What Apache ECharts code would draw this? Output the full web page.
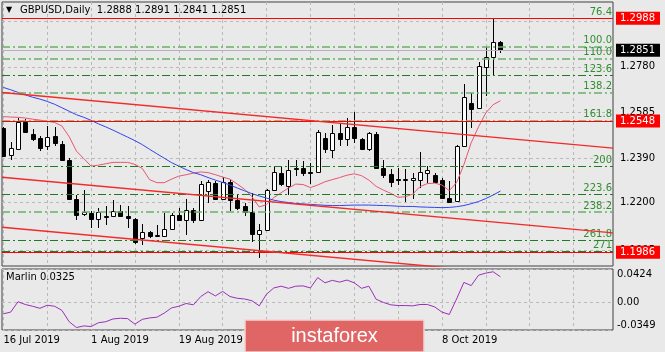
<!DOCTYPE html>
<html><head><meta charset="utf-8">
<script src="https://cdn.jsdelivr.net/npm/echarts@6/dist/echarts.min.js"></script>
<style>html,body{margin:0;padding:0;background:#e9e9e9}#c{width:665px;height:352px}</style>
</head><body><div id="c"></div>
<script>
const dates = ['16 Jul 2019','17 Jul 2019','18 Jul 2019','19 Jul 2019','22 Jul 2019','23 Jul 2019','24 Jul 2019','25 Jul 2019','26 Jul 2019','29 Jul 2019','30 Jul 2019','31 Jul 2019',
 '1 Aug 2019','2 Aug 2019','5 Aug 2019','6 Aug 2019','7 Aug 2019','8 Aug 2019','9 Aug 2019','12 Aug 2019','13 Aug 2019','14 Aug 2019','15 Aug 2019','16 Aug 2019','19 Aug 2019','20 Aug 2019','21 Aug 2019','22 Aug 2019','23 Aug 2019','26 Aug 2019','27 Aug 2019','28 Aug 2019','29 Aug 2019','30 Aug 2019',
 '2 Sep 2019','3 Sep 2019','4 Sep 2019','5 Sep 2019','6 Sep 2019','9 Sep 2019','10 Sep 2019','11 Sep 2019','12 Sep 2019','13 Sep 2019','16 Sep 2019','17 Sep 2019','18 Sep 2019','19 Sep 2019','20 Sep 2019','23 Sep 2019','24 Sep 2019','25 Sep 2019','26 Sep 2019','27 Sep 2019','30 Sep 2019',
 '1 Oct 2019','2 Oct 2019','3 Oct 2019','4 Oct 2019','7 Oct 2019','8 Oct 2019','9 Oct 2019','10 Oct 2019','11 Oct 2019','14 Oct 2019','15 Oct 2019','16 Oct 2019','17 Oct 2019','18 Oct 2019'];

const open  = [1.2518,1.2404,1.2429,1.2546,1.2494,1.2475,1.2439,1.2482,1.2451,1.2382,
 1.2216,1.2149,1.2155,1.2130,1.2142,1.2140,1.2162,1.2143,1.2129,1.2048,
 1.2072,1.2058,1.2055,1.2086,1.2147,1.2126,1.2169,1.2126,1.2250,1.2283,
 1.2214,1.2286,1.2209,1.2183,1.2157,1.2062,1.2083,1.2252,1.2326,1.2271,
 1.2345,1.2347,1.2329,1.2331,1.2475,1.2425,1.2496,1.2471,1.2522,1.2471,
 1.2430,1.2494,1.2347,1.2322,1.2300,1.2296,1.2294,1.2297,1.2326,1.2318,
 1.2294,1.2219,1.2205,1.2442,1.2627,1.2603,1.2781,1.2824,1.2888];
const high  = [1.2521,1.2458,1.2561,1.2556,1.2515,1.2485,1.2525,1.2522,1.2461,1.2388,
 1.2233,1.2251,1.2164,1.2176,1.2186,1.2209,1.2190,1.2186,1.2131,1.2105,
 1.2079,1.2102,1.2154,1.2154,1.2176,1.2214,1.2176,1.2290,1.2297,1.2290,
 1.2307,1.2297,1.2233,1.2197,1.2240,1.2105,1.2258,1.2351,1.2351,1.2382,
 1.2382,1.2375,1.2368,1.2508,1.2496,1.2532,1.2539,1.2561,1.2585,1.2475,
 1.2503,1.2499,1.2382,1.2342,1.2347,1.2342,1.2326,1.2415,1.2357,1.2326,
 1.2304,1.2290,1.2447,1.2707,1.2667,1.2803,1.2867,1.2988,1.2891];
const low   = [1.2393,1.2382,1.2422,1.2496,1.2461,1.2418,1.2425,1.2442,1.2375,1.2215,
 1.2123,1.2140,1.2088,1.2090,1.2102,1.2138,1.2138,1.2090,1.2023,1.2016,
 1.2045,1.2052,1.2052,1.2081,1.2119,1.2059,1.2112,1.2119,1.2197,1.2211,
 1.2211,1.2162,1.2169,1.2140,1.2029,1.1962,1.2079,1.2248,1.2271,1.2233,
 1.2311,1.2311,1.2280,1.2328,1.2411,1.2390,1.2439,1.2442,1.2456,1.2422,
 1.2418,1.2343,1.2304,1.2266,1.2276,1.2200,1.2214,1.2261,1.2283,1.2283,
 1.2214,1.2196,1.2200,1.2439,1.2518,1.2599,1.2656,1.2746,1.2841];
const close = [1.2397,1.2432,1.2546,1.2501,1.2472,1.2432,1.2479,1.2454,1.2380,1.2216,
 1.2147,1.2157,1.2129,1.2159,1.2139,1.2162,1.2140,1.2133,1.2030,1.2072,
 1.2055,1.2061,1.2086,1.2147,1.2126,1.2166,1.2126,1.2280,1.2286,1.2214,
 1.2286,1.2211,1.2176,1.2157,1.2062,1.2080,1.2254,1.2328,1.2279,1.2340,
 1.2347,1.2325,1.2327,1.2503,1.2428,1.2496,1.2471,1.2522,1.2474,1.2428,
 1.2496,1.2347,1.2318,1.2286,1.2296,1.2300,1.2304,1.2328,1.2337,1.2287,
 1.2219,1.2200,1.2442,1.2653,1.2599,1.2784,1.2824,1.2888,1.2851];

const maFast = [1.2567,1.2565,1.2564,1.2561,1.2556,1.2552,1.2547,1.2542,1.2527,1.2481,
 1.2419,1.2387,1.2355,1.2359,1.2365,1.2371,1.2371,1.2371,1.2362,1.2345,
 1.2297,1.2284,1.2284,1.2299,1.2312,1.2318,1.2325,1.2330,1.2327,1.2318,
 1.2308,1.2299,1.2278,1.2256,1.2224,1.2180,1.2190,1.2220,1.2241,1.2261,
 1.2278,1.2276,1.2263,1.2274,1.2288,1.2297,1.2306,1.2316,1.2322,1.2314,
 1.2295,1.2268,1.2252,1.2238,1.2221,1.2224,1.2235,1.2267,1.2280,1.2282,
 1.2274,1.2250,1.2284,1.2361,1.2455,1.2523,1.2583,1.2618,1.2635];
const maSlow = [1.2692,1.2682,1.2671,1.2660,1.2650,1.2642,1.2632,1.2620,1.2605,1.2590,
 1.2575,1.2564,1.2551,1.2536,1.2523,1.2509,1.2494,1.2479,1.2464,1.2447,
 1.2427,1.2408,1.2389,1.2370,1.2355,1.2340,1.2327,1.2318,1.2306,1.2295,
 1.2285,1.2274,1.2261,1.2249,1.2237,1.2227,1.2218,1.2209,1.2203,1.2199,
 1.2195,1.2193,1.2191,1.2189,1.2187,1.2186,1.2186,1.2187,1.2188,1.2188,
 1.2188,1.2187,1.2186,1.2185,1.2183,1.2182,1.2182,1.2180,1.2179,1.2178,
 1.2177,1.2178,1.2181,1.2186,1.2194,1.2203,1.2216,1.2231,1.2248];
const marlin = [-0.0144,-0.0122,0.0009,-0.0026,-0.0048,-0.0074,-0.0035,-0.0048,-0.0100,-0.0244,
 -0.0318,-0.0297,-0.0305,-0.0257,-0.0244,-0.0209,-0.0200,-0.0205,-0.0275,-0.0214,
 -0.0196,-0.0187,-0.0135,-0.0069,-0.0048,-0.0013,-0.0030,0.0075,0.0136,0.0083,
 0.0140,0.0075,0.0053,0.0044,0.0022,-0.0043,0.0105,0.0184,0.0206,0.0179,
 0.0206,0.0210,0.0184,0.0315,0.0249,0.0280,0.0258,0.0284,0.0249,0.0179,
 0.0206,0.0040,0.0000,-0.0030,-0.0039,-0.0039,-0.0043,-0.0026,-0.0026,-0.0056,
 -0.0122,-0.0152,0.0044,0.0254,0.0214,0.0345,0.0372,0.0389,0.0325];

const fibLevels = ['76.4','100.0','110.0','123.6','138.2','161.8','200','223.6','238.2','261.8','271'];
const fibPrices = [1.29876,1.28666,1.28153,1.27456,1.26707,1.25497,1.23538,1.22328,1.21579,1.20369,1.19897];
const levelPrices = [1.2988, 1.2548, 1.1986];
const trendLines = [[-0.19, 1.2670, 83.4, 1.2432], [-0.19, 1.2307, 83.4, 1.2069], [-0.19, 1.2093, 83.4, 1.1855]];
const priceTicks = [1.2975, 1.2780, 1.2585, 1.2390, 1.2200, 1.1995];
const marlinTicks = [-0.0349, 0, 0.0424];
const gridBars = [0, 6, 12, 18, 24, 30, 36, 42, 48, 54, 60, 66, 72, 78];
const labelBars = [0, 12, 24, 36, 48, 60];

// styles (kept separate from data)
const fibTone = ['d','l','l','d','l','l','d','d','l','d','d'];
const FONT = 'DejaVu Sans';
const gridLine = { show: true, lineStyle: { color: '#b9b9b9', width: 1, type: [3, 3] } };

const last = open.length - 1;
const chart = echarts.init(document.getElementById('c'), null, { renderer: 'canvas' });

function renderCandle(params, api) {
  const i = api.value(0), o = api.value(1), c = api.value(2), l = api.value(3), h = api.value(4);
  const pO = api.coord([i, o]), pC = api.coord([i, c]), pL = api.coord([i, l]), pH = api.coord([i, h]);
  const x = Math.round(pO[0]);
  const top = Math.round(Math.min(pO[1], pC[1]));
  const bot = Math.round(Math.max(pO[1], pC[1]));
  const bull = c >= o;
  return {
    type: 'group',
    children: [
      { type: 'line', shape: { x1: x + 0.5, y1: Math.round(pH[1]), x2: x + 0.5, y2: Math.round(pL[1]) }, style: { stroke: '#000', lineWidth: 1 } },
      { type: 'rect', shape: { x: x - 1.5, y: top + 0.5, width: 4, height: Math.max(bot - top, 1) }, style: { fill: bull ? '#fff' : '#000', stroke: '#000', lineWidth: 1 } }
    ]
  };
}

const markData = [];
fibPrices.forEach((p, k) => markData.push({
  yAxis: p,
  lineStyle: { color: fibTone[k] === 'l' ? '#66b266' : '#1d7d1d', width: fibTone[k] === 'l' ? 1.5 : 1, type: [8, 3, 2, 3] },
  label: { show: true, position: 'insideEndTop', formatter: fibLevels[k], color: '#2f8f2f', fontSize: 10, fontFamily: FONT, distance: 1 }
}));
levelPrices.forEach(p => markData.push({
  yAxis: p,
  lineStyle: { color: '#ff0000', width: 1, type: 'solid' },
  label: { show: true, position: 'end', formatter: p.toFixed(4), backgroundColor: '#ff0000', color: '#fff', padding: [1, 5, 0, 4], lineHeight: 12, distance: 3, fontSize: 10, fontFamily: FONT }
}));
markData.push({
  yAxis: close[last],
  lineStyle: { color: '#b4b4b4', width: 1, type: 'solid' },
  label: { show: true, position: 'end', formatter: close[last].toFixed(4), backgroundColor: '#000', color: '#fff', padding: [1, 5, 0, 4], lineHeight: 12, distance: 3, fontSize: 10, fontFamily: FONT }
});

const option = {
  backgroundColor: '#e9e9e9',
  animation: false,
  textStyle: { fontFamily: FONT },
  grid: [
    { left: 2, right: 52, top: 2, height: 264, show: true, borderColor: '#404040', borderWidth: 1, backgroundColor: 'transparent' },
    { left: 2, right: 52, top: 269, height: 61, show: true, borderColor: '#404040', borderWidth: 1, backgroundColor: 'transparent' }
  ],
  xAxis: [
    { gridIndex: 0, type: 'value', min: -0.19, max: 83.4, axisLine: { show: false },
      axisTick: { show: false, customValues: gridBars }, axisLabel: { show: false }, splitLine: gridLine },
    { gridIndex: 1, type: 'value', min: -0.19, max: 83.4, axisLine: { show: false },
      axisTick: { show: false, customValues: gridBars },
      axisLabel: { show: true, customValues: labelBars, formatter: v => dates[v] || '', align: 'left', margin: 5, fontSize: 10, fontFamily: FONT, color: '#000' },
      splitLine: gridLine }
  ],
  yAxis: [
    { gridIndex: 0, type: 'value', position: 'right', min: 1.1927, max: 1.3058,
      axisLine: { show: false }, axisTick: { show: false, customValues: priceTicks },
      axisLabel: { customValues: priceTicks, formatter: v => v.toFixed(4), margin: 7, fontSize: 10, fontFamily: FONT, color: '#000' },
      splitLine: gridLine },
    { gridIndex: 1, type: 'value', position: 'right', min: -0.0349, max: 0.0424,
      axisLine: { show: false }, axisTick: { show: false, customValues: marlinTicks },
      axisLabel: { customValues: marlinTicks, formatter: v => (v === 0 ? '0.00' : v.toFixed(4)), margin: 4, fontSize: 10, fontFamily: FONT, color: '#000',
        verticalAlignMaxLabel: 'top', verticalAlignMinLabel: 'bottom' },
      splitLine: gridLine }
  ],
  series: [
    { type: 'custom', name: 'GBPUSD', xAxisIndex: 0, yAxisIndex: 0, z: 3, clip: true,
      data: open.map((o, i) => [i, o, close[i], low[i], high[i]]),
      encode: { x: 0, y: [1, 2, 3, 4] }, renderItem: renderCandle },
    { type: 'line', name: 'MA fast', xAxisIndex: 0, yAxisIndex: 0, z: 4, symbol: 'none',
      data: maFast.map((v, i) => [i, v]), lineStyle: { color: '#e85670', width: 1 } },
    { type: 'line', name: 'MA slow', xAxisIndex: 0, yAxisIndex: 0, z: 4, symbol: 'none',
      data: maSlow.map((v, i) => [i, v]), lineStyle: { color: '#3344ee', width: 1 } },
    ...trendLines.map(t => ({ type: 'line', xAxisIndex: 0, yAxisIndex: 0, z: 5, symbol: 'none', clip: true,
      data: [[t[0], t[1]], [t[2], t[3]]], lineStyle: { color: '#f42a2a', width: 1.4 } })),
    { type: 'line', name: 'levels', xAxisIndex: 0, yAxisIndex: 0, z: 6, data: [],
      markLine: { symbol: 'none', silent: true, animation: false, precision: 6, data: markData } },
    { type: 'line', name: 'Marlin', xAxisIndex: 1, yAxisIndex: 1, z: 4, symbol: 'none',
      data: marlin.map((v, i) => [i, v]), lineStyle: { color: '#9b30b8', width: 1 } }
  ],
  graphic: [
    { type: 'text', left: 6, top: 6, z: 50, style: { text: '\u25BC', fontSize: 8, fill: '#000', fontFamily: FONT } },
    { type: 'text', left: 20, top: 5, z: 50, style: { text: 'GBPUSD,Daily  ' + [open[last], high[last], low[last], close[last]].map(v => v.toFixed(4)).join(' '), fontSize: 10, fill: '#000', fontFamily: FONT } },
    { type: 'text', left: 6, top: 272, z: 50, style: { text: 'Marlin ' + marlin[last].toFixed(4), fontSize: 10, fill: '#000', fontFamily: FONT } },
    { type: 'rect', z: 60, shape: { x: 245, y: 320, width: 179, height: 32 }, style: { fill: '#e06666', stroke: '#f2d4d4', lineWidth: 1.5 } },
    { type: 'text', z: 61, x: 334.5, y: 336, style: { text: 'instaforex', fontSize: 20, fill: '#fff', fontFamily: 'Liberation Sans', align: 'center', verticalAlign: 'middle' } }
  ]
};
chart.setOption(option);
</script></body></html>
